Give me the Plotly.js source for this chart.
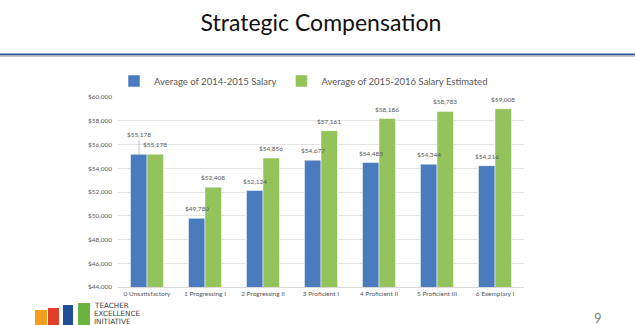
<!DOCTYPE html>
<html>
<head>
<meta charset="utf-8">
<script src="https://cdn.plot.ly/plotly-3.0.1.min.js"></script>
<style>html,body{margin:0;padding:0;background:#fff;}#chart{width:635px;height:325px;}</style>
</head>
<body>
<div id="chart"></div>
<script>
const categories = ["0 Unsatisfactory","1 Progressing I","2 Progressing II","3 Proficient I","4 Proficient II","5 Proficient III","6 Exemplary I"];
const salary2014 = [55178, 49780, 52124, 54677, 54483, 54344, 54216];
const salary2015 = [55178, 52408, 54856, 57161, 58186, 58783, 59008];
const seriesNames = ["Average of 2014-2015 Salary", "Average of 2015-2016 Salary Estimated"];
const yTicks = [44000,46000,48000,50000,52000,54000,56000,58000,60000];

const fmt = v => "$" + v.toLocaleString("en-US");
const labelFont = {family: "Lato, 'Open Sans', sans-serif", size: 6.5, color: "#595959"};

const traces = [
  {type: "bar", name: seriesNames[0], x: categories, y: salary2014, marker: {color: "#4a7bbd", line: {color: "#ffffff", width: 0.5}}, hoverinfo: "none"},
  {type: "bar", name: seriesNames[1], x: categories, y: salary2015, marker: {color: "#93c35a", line: {color: "#ffffff", width: 0.5}}, hoverinfo: "none"}
];

const annotations = [];
categories.forEach((c, i) => {
  const overlap = Math.abs(salary2014[i] - salary2015[i]) < 800 && salary2015[i] >= salary2014[i];
  annotations.push({x: c, y: salary2014[i], xref: "x", yref: "y", text: fmt(salary2014[i]), font: labelFont,
    xshift: -8, yanchor: "bottom",
    showarrow: overlap, arrowhead: 0, arrowwidth: 0.7, arrowcolor: "#a6a6a6", ax: 0, ay: overlap ? -14 : 0,
    yshift: overlap ? 0 : 4});
  annotations.push({x: c, y: salary2015[i], xref: "x", yref: "y", text: fmt(salary2015[i]), font: labelFont,
    xshift: 8, yanchor: "bottom", showarrow: false, yshift: 4});
});

// page decorations (pixel -> paper conversion)
const L = 118, T = 97, W = 406, H = 190;
const px = x => (x - L) / W;
const py = y => (T + H - y) / H;

const logoLines = ["TEACHER", "EXCELLENCE", "INITIATIVE"];
const logoY = [305.5, 313.5, 321.5];
logoLines.forEach((t, i) => annotations.push({xref: "paper", yref: "paper", x: px(93), y: py(logoY[i]), xanchor: "left", yanchor: "middle",
  text: t, showarrow: false, borderpad: 0, font: {family: "'DejaVu Sans', sans-serif", size: 7.2, color: "#404040"}}));
annotations.push({xref: "paper", yref: "paper", x: px(598), y: py(318), xanchor: "center", yanchor: "middle",
  text: "9", showarrow: false, font: {family: "Lato, sans-serif", size: 13, color: "#7f7f7f"}});

const shapes = [
  {type: "rect", xref: "paper", yref: "paper", x0: px(0), x1: px(635), y0: py(55.5), y1: py(53.5), fillcolor: "#2e5591", line: {width: 0}},
  {type: "rect", xref: "paper", yref: "paper", x0: px(0), x1: px(635), y0: py(57), y1: py(55.5), fillcolor: "#c8c8c8", line: {width: 0}},
  {type: "rect", xref: "paper", yref: "paper", x0: px(35), x1: px(47), y0: py(325), y1: py(310), fillcolor: "#f0a01e", line: {width: 0}},
  {type: "rect", xref: "paper", yref: "paper", x0: px(48), x1: px(59), y0: py(325), y1: py(308), fillcolor: "#e0402a", line: {width: 0}},
  {type: "rect", xref: "paper", yref: "paper", x0: px(63), x1: px(73), y0: py(325), y1: py(305), fillcolor: "#1f4e96", line: {width: 0}},
  {type: "rect", xref: "paper", yref: "paper", x0: px(78), x1: px(90), y0: py(325), y1: py(303), fillcolor: "#6cb33f", line: {width: 0}}
];

const layout = {
  width: 635, height: 325,
  margin: {l: L, r: 635 - L - W, t: T, b: 325 - T - H, pad: 0},
  paper_bgcolor: "#ffffff", plot_bgcolor: "#ffffff",
  title: {text: "Strategic Compensa\u200Ction", x: 0.5, xref: "paper", xanchor: "center", y: 1 - 23/325, yref: "container", yanchor: "middle",
    font: {family: "Lato, 'Open Sans', sans-serif", size: 23, color: "#111111"}},
  barmode: "group", bargap: 0.43, bargroupgap: 0,
  showlegend: true,
  legend: {orientation: "h", x: px(114), y: py(81), xanchor: "left", yanchor: "middle",
    font: {family: "Lato, 'Open Sans', sans-serif", size: 9.5, color: "#595959"}, itemwidth: 30, traceorder: "normal"},
  xaxis: {type: "category", showgrid: false, showline: true, linecolor: "#d9d9d9", linewidth: 1, ticks: "",
    ticklabelstandoff: 0,
    tickfont: {family: "Lato, 'Open Sans', sans-serif", size: 6.5, color: "#595959"}, fixedrange: true},
  yaxis: {range: [44000, 60000], tickvals: yTicks, ticktext: yTicks.map(fmt), showgrid: true, gridcolor: "#e4e4e4", gridwidth: 1,
    zeroline: false, showline: false, ticks: "", ticklabelstandoff: 5,
    tickfont: {family: "Lato, 'Open Sans', sans-serif", size: 6.5, color: "#595959"}, fixedrange: true},
  annotations: annotations,
  shapes: shapes
};

Plotly.newPlot("chart", traces, layout, {staticPlot: true, displayModeBar: false});
</script>
</body>
</html>
